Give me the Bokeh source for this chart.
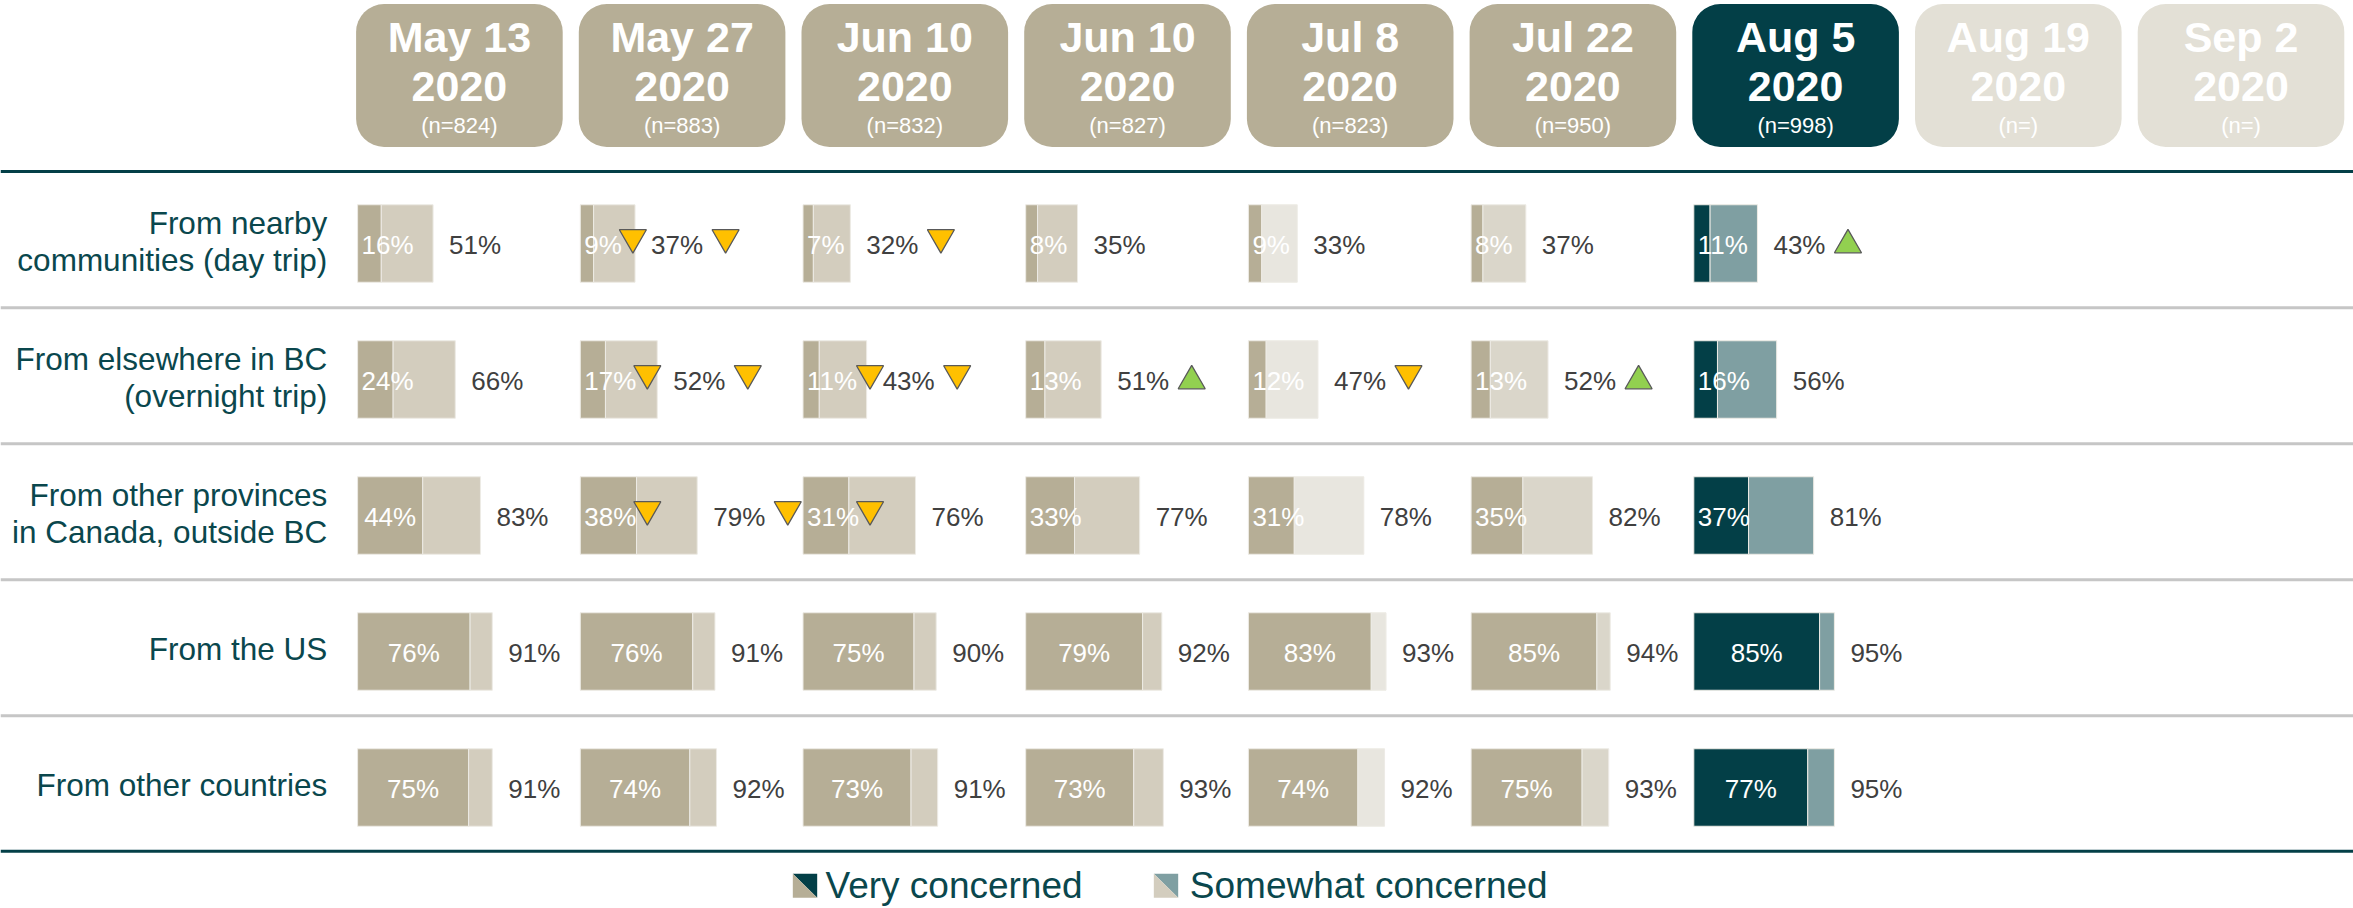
from bokeh.plotting import figure
from bokeh.models import Range1d, Span
from bokeh.core.properties import value
from bokeh.embed import file_html
from bokeh.resources import INLINE

# ---------------- data ----------------
dates = ["May 13", "May 27", "Jun 10", "Jun 10", "Jul 8", "Jul 22", "Aug 5", "Aug 19", "Sep 2"]
years = ["2020", "2020", "2020", "2020", "2020", "2020", "2020", "2020", "2020"]
sample_n = ["(n=824)", "(n=883)", "(n=832)", "(n=827)", "(n=823)", "(n=950)", "(n=998)", "(n=)", "(n=)"]
wave_status = ["past", "past", "past", "past", "past", "past", "current", "future", "future"]

row_labels = [
    ["From nearby", "communities (day trip)"],
    ["From elsewhere in BC", "(overnight trip)"],
    ["From other provinces", "in Canada, outside BC"],
    ["From the US"],
    ["From other countries"],
]

very_nearby = [16, 9, 7, 8, 9, 8, 11]
very_bc = [24, 17, 11, 13, 12, 13, 16]
very_provinces = [44, 38, 31, 33, 31, 35, 37]
very_us = [76, 76, 75, 79, 83, 85, 85]
very_countries = [75, 74, 73, 73, 74, 75, 77]

total_nearby = [51, 37, 32, 35, 33, 37, 43]
total_bc = [66, 52, 43, 51, 47, 52, 56]
total_provinces = [83, 79, 76, 77, 78, 82, 81]
total_us = [91, 91, 90, 92, 93, 94, 95]
total_countries = [91, 92, 91, 93, 92, 93, 95]

# significance vs previous wave: -1 down, +1 up, 0 none
sig_very_nearby = [0, -1, 0, 0, 0, 0, 0]
sig_very_bc = [0, -1, -1, 0, 0, 0, 0]
sig_very_provinces = [0, -1, -1, 0, 0, 0, 0]
sig_very_us = [0, 0, 0, 0, 0, 0, 0]
sig_very_countries = [0, 0, 0, 0, 0, 0, 0]

sig_total_nearby = [0, -1, -1, 0, 0, 0, 1]
sig_total_bc = [0, -1, -1, 1, -1, 1, 0]
sig_total_provinces = [0, -1, 0, 0, 0, 0, 0]
sig_total_us = [0, 0, 0, 0, 0, 0, 0]
sig_total_countries = [0, 0, 0, 0, 0, 0, 0]

very_rows = [very_nearby, very_bc, very_provinces, very_us, very_countries]
total_rows = [total_nearby, total_bc, total_provinces, total_us, total_countries]
sig_very_rows = [sig_very_nearby, sig_very_bc, sig_very_provinces, sig_very_us, sig_very_countries]
sig_total_rows = [sig_total_nearby, sig_total_bc, sig_total_provinces, sig_total_us, sig_total_countries]

# ---------------- layout / style ----------------
W, H = 2353, 908
PX = 1.48            # screen px per percentage point
X0 = 357.1           # px of first column origin
COL_PITCH = 222.7 / PX
ROW_Y0, ROW_PITCH = 243, 136
BAR_H = 77.5
FONT = value("Liberation Sans")

TEAL = "#033F47"
TEXT_TEAL = "#0A474D"
TAN = "#B6AE96"
header_fill = {"past": TAN, "current": TEAL, "future": "#E3E0D6"}
very_colors = [TAN, TAN, TAN, TAN, TAN, TAN, TEAL]
somewhat_colors = ["#D3CDBE", "#D3CDBE", "#D3CDBE", "#D3CDBE", "#E8E6DF", "#DAD6CA", "#7F9FA2"]


def xu(px):
    return (px - X0) / PX


def dx(px):
    return px / PX


p = figure(width=W, height=H, x_range=Range1d(xu(0), xu(W)), y_range=Range1d(H, 0),
           output_backend="svg", toolbar_location=None, x_axis_type=None, y_axis_type=None,
           min_border=0, outline_line_color=None)
p.background_fill_color = "white"
p.border_fill_color = "white"

origins = [i * COL_PITCH for i in range(len(dates))]

# ---- header boxes ----
p.quad(left=[o - dx(1.5) for o in origins], right=[o + dx(205.1) for o in origins],
       top=[3.5] * len(dates), bottom=[146.5] * len(dates),
       fill_color=[header_fill[s] for s in wave_status], line_color=None, border_radius=28)
centers = [o + dx(101.8) for o in origins]
p.text(x=centers, y=[36] * len(dates), text=dates, text_font=FONT, text_font_style="bold",
       text_font_size="43px", text_color="white", text_align="center", text_baseline="alphabetic")
p.text(x=centers, y=[86] * len(dates), text=years, text_font=FONT, text_font_style="bold",
       text_font_size="43px", text_color="white", text_align="center", text_baseline="alphabetic")
p.text(x=centers, y=[125] * len(dates), text=sample_n, text_font=FONT,
       text_font_size="22px", text_color="white", text_align="center", text_baseline="alphabetic")

# ---- lines ----
p.add_layout(Span(location=171, dimension="width", line_color=TEAL, line_width=3))
for i in range(len(row_labels) - 1):
    p.add_layout(Span(location=ROW_Y0 + ROW_PITCH * i + 64.3, dimension="width",
                      line_color="#C6C6C6", line_width=3))
p.add_layout(Span(location=850.7, dimension="width", line_color=TEAL, line_width=3))

# ---- row labels ----
LINE_SP = 36.7
lab_x, lab_y, lab_t = [], [], []
for r, lines in enumerate(row_labels):
    cy = ROW_Y0 + ROW_PITCH * r
    first = cy - 2.3 - (len(lines) - 1) * LINE_SP / 2
    for k, t in enumerate(lines):
        lab_x.append(xu(326.7))
        lab_y.append(first + k * LINE_SP)
        lab_t.append(t)
p.text(x=lab_x, y=lab_y, text=lab_t, text_font=FONT, text_font_size="31.5px",
       text_color=TEXT_TEAL, text_align="right", text_baseline="alphabetic")

# ---- bars & labels ----
FS = 26


def text_w(s):
    digits = len(s) - 1
    return (0.556 * digits + 0.889) * FS


bar_y, v_left, v_right, v_col, s_left, s_right, s_col = [], [], [], [], [], [], []
in_x_c, in_y_c, in_t_c = [], [], []
in_x_l, in_y_l, in_t_l = [], [], []
tot_x, tot_y, tot_t = [], [], []
down_x, down_y, up_x, up_y = [], [], [], []

for r in range(len(row_labels)):
    cy = ROW_Y0 + ROW_PITCH * r
    for c in range(len(very_rows[r])):
        o = origins[c]
        v = very_rows[r][c]
        t = total_rows[r][c]
        bar_y.append(cy)
        v_left.append(o); v_right.append(o + v); v_col.append(very_colors[c])
        s_left.append(o + v); s_right.append(o + t); s_col.append(somewhat_colors[c])

        vs = f"{v}%"
        tw = text_w(vs)
        if v * PX >= tw + 8:
            in_x_c.append(o + v / 2); in_y_c.append(cy + 1.5); in_t_c.append(vs)
            lab_right = v * PX / 2 + tw / 2
        else:
            in_x_l.append(o + dx(4)); in_y_l.append(cy + 1.5); in_t_l.append(vs)
            lab_right = 4 + tw
        ts = f"{t}%"
        tot_x.append(o + t); tot_y.append(cy + 1.5); tot_t.append(ts)

        sv = sig_very_rows[r][c]
        if sv:
            xx = o + dx(lab_right + 11)
            if sv < 0:
                down_x.append(xx); down_y.append(cy - 6)
            else:
                up_x.append(xx); up_y.append(cy + 1.5)
        st = sig_total_rows[r][c]
        if st:
            xx = o + t + dx(16 + text_w(ts) + 8 + 14.5)
            if st < 0:
                down_x.append(xx); down_y.append(cy - 6)
            else:
                up_x.append(xx); up_y.append(cy + 1.5)

p.hbar(y=bar_y, left=v_left, right=v_right, height=BAR_H, fill_color=v_col,
       line_color="#EDEBE5", line_width=1)
p.hbar(y=bar_y, left=s_left, right=s_right, height=BAR_H, fill_color=s_col,
       line_color="#EDEBE5", line_width=1)

p.text(x=in_x_c, y=in_y_c, text=in_t_c, text_font=FONT, text_font_size=f"{FS}px",
       text_color="white", text_align="center", text_baseline="alphabetic")
p.text(x=in_x_l, y=in_y_l, text=in_t_l, text_font=FONT, text_font_size=f"{FS}px",
       text_color="white", text_align="left", text_baseline="alphabetic")
p.text(x=tot_x, y=tot_y, text=tot_t, x_offset=16, text_font=FONT, text_font_size=f"{FS}px",
       text_color="#404040", text_align="left", text_baseline="alphabetic")

p.scatter(x=down_x, y=down_y, marker="inverted_triangle", size=27, fill_color="#FFC000",
          line_color="#595959", line_width=1.3)
p.scatter(x=up_x, y=up_y, marker="triangle", size=27, fill_color="#92D050",
          line_color="#595959", line_width=1.3)

# ---- legend ----
legend_items = ["Very concerned", "Somewhat concerned"]
legend_dark = [TEAL, "#7F9FA2"]
legend_light = [TAN, "#D3CDBE"]
legend_icon_left = [792.3, 1153.3]
legend_text_left = [825, 1189.3]
for k in range(2):
    L, R = xu(legend_icon_left[k]), xu(legend_icon_left[k] + 24.4)
    T, B = 873.3, 897.3
    p.patch(x=[L, R, R], y=[T, T, B], fill_color=legend_dark[k], line_color=None)
    p.patch(x=[L, L, R], y=[T, B, B], fill_color=legend_light[k], line_color=None)
p.text(x=[xu(v) for v in legend_text_left], y=[885.4, 885.4], text=legend_items, text_font=FONT,
       text_font_size="37px", text_color=TEXT_TEAL, text_align="left", text_baseline="alphabetic")

open("out.html", "w").write(file_html(p, INLINE))
